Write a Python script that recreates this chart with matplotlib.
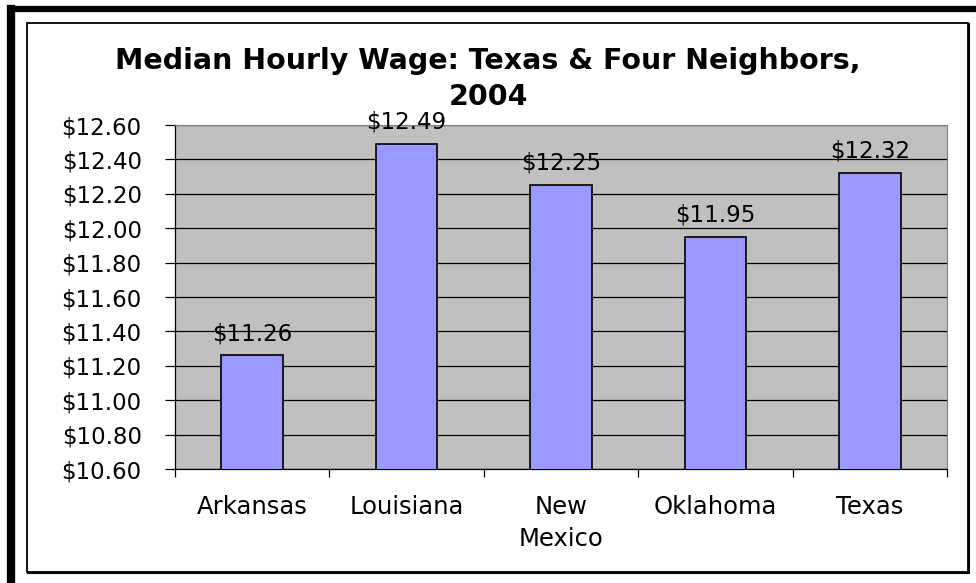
import matplotlib.pyplot as plt
from matplotlib.patches import Rectangle
from matplotlib.lines import Line2D
import numpy as np

plt.rcParams['font.family'] = ['DejaVu Sans']

states = ['Arkansas', 'Louisiana', 'New\nMexico', 'Oklahoma', 'Texas']
wages = [11.26, 12.49, 12.25, 11.95, 12.32]
yticks = np.arange(10.60, 12.61, 0.20)

fig = plt.figure(figsize=(9.76, 5.83), dpi=100)
W, H = 976, 583

def fx(px):
    return px / W

def fy(py):
    return (H - py) / H

# outer thick frame (left and top only, runs off the picture)
fig.lines.append(Line2D([fx(11), fx(11)], [fy(583), fy(9)], transform=fig.transFigure,
                        color='black', linewidth=6, solid_capstyle='projecting'))
fig.lines.append(Line2D([fx(11), fx(976)], [fy(9), fy(9)], transform=fig.transFigure,
                        color='black', linewidth=4.5, solid_capstyle='projecting'))
# inner chart box
fig.patches.append(Rectangle((fx(27), fy(572)), fx(968) - fx(27), fy(23) - fy(572),
                             transform=fig.transFigure, fill=False, edgecolor='black',
                             linewidth=1.3))
fig.lines.append(Line2D([fx(969), fx(969)], [fy(572), fy(24)], transform=fig.transFigure,
                        color='black', linewidth=1.5))
fig.lines.append(Line2D([fx(28), fx(969)], [fy(573), fy(573)], transform=fig.transFigure,
                        color='black', linewidth=1.5))

ax = fig.add_axes([fx(175), fy(469), fx(947) - fx(175), fy(125) - fy(469)])
ax.set_facecolor('#C0C0C0')
x = np.arange(len(states))
ax.bar(x, wages, width=0.4, color='#9999FF', edgecolor='black', linewidth=1.2, zorder=3)
for xi, v in zip(x, wages):
    ax.text(xi, v + 0.06, f'${v:.2f}', ha='center', va='bottom', fontsize=16.5, zorder=4)

ax.set_xlim(-0.5, len(states) - 0.5)
ax.set_ylim(10.60, 12.60)
ax.set_yticks(yticks)
ax.set_yticklabels([f'${t:.2f}' for t in yticks], fontsize=16.5)
ax.yaxis.grid(True, color='black', linewidth=0.9, zorder=1)
ax.set_axisbelow(True)
ax.tick_params(axis='y', direction='out', length=7, width=0.9, pad=17)

ax.set_xticks(x)
ax.set_xticklabels(states, fontsize=17.5, linespacing=1.4)
ax.set_xticks(np.arange(-0.5, len(states)), minor=True)
ax.tick_params(axis='x', which='major', length=0, pad=19)
ax.tick_params(axis='x', which='minor', direction='out', length=6, width=0.9)

for s in ['top', 'right']:
    ax.spines[s].set_color('#808080')
    ax.spines[s].set_linewidth(0.8)
ax.spines['left'].set_linewidth(0.9)
ax.spines['bottom'].set_linewidth(0.9)

fig.text(0.5, fy(79), 'Median Hourly Wage: Texas & Four Neighbors,\n2004',
         ha='center', va='center', fontsize=20.5, fontweight='bold', linespacing=1.35)

fig.savefig('out.png', dpi=100)
